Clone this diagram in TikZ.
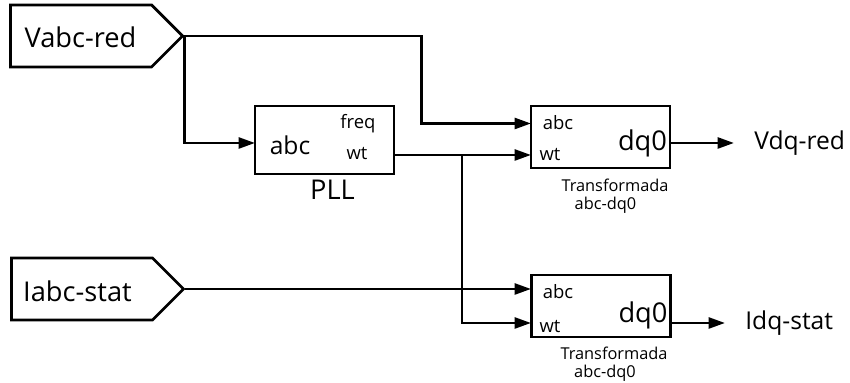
\documentclass[tikz,border=0pt]{standalone}
\usepackage{fontspec}
\setmainfont{Open Sans}
\usetikzlibrary{arrows.meta,shapes.symbols,positioning}

\begin{document}
\begin{tikzpicture}[every node/.style={font=\fontsize{10.5}{12}\selectfont}]
  \tikzset{
    block/.style={rectangle, draw=black, line width=1.6pt, minimum width=2.78cm, minimum height=1.24cm, inner sep=0pt},
    port/.style={signal, signal to=east, signal pointer angle=90, draw=black, line width=1.6pt, minimum width=3.44cm, minimum height=1.24cm, inner sep=0pt},
    feed/.style={-{Triangle[length=3.3mm, width=2.2mm]}, line width=1.6pt},
    big/.style={font=\fontsize{15.5}{18}\selectfont},
    mid/.style={font=\fontsize{14}{16}\selectfont},
    tag/.style={font=\fontsize{9.3}{11}\selectfont}
  }
  \useasboundingbox (0,0) rectangle (17,7.66);

  % entradas
  \node[port] (vin) at (1.62,6.94) {};
  \node[big] (vinlab) at (1.61,6.92) {Vabc-red};
  \node[port] (iin) at (1.64,1.88) {};
  \node[big] (iinlab) at (1.55,1.84) {Iabc-stat};

  % PLL
  \node[block, minimum height=1.36cm] (pll) at (6.49,4.86) {};
  \node[mid] (pllabc) at (5.80,4.76) {abc};
  \node (pllfreq) at (7.16,5.18) {freq};
  \node (pllwtlab) at (7.14,4.58) {wt};
  \node[big] (plllab) at (6.65,3.86) {PLL};

  % transformadas
  \node[block] (t1) at (12.01,4.92) {};
  \node (t1abclab) at (11.16,5.20) {abc};
  \node (t1wtlab) at (11.00,4.56) {wt};
  \node[big] (t1dq) at (12.85,4.80) {dq0};
  \node[tag] (t1name) at (12.30,3.96) {Transformada};
  \node[tag] (t1sub) at (12.11,3.56) {abc-dq0};

  \node[block] (t2) at (12.02,1.54) {};
  \node (t2abclab) at (11.16,1.82) {abc};
  \node (t2wtlab) at (11.00,1.12) {wt};
  \node[big] (t2dq) at (12.86,1.36) {dq0};
  \node[tag] (t2name) at (12.28,0.60) {Transformada};
  \node[tag] (t2sub) at (12.10,0.20) {abc-dq0};

  % salidas
  \node[mid, anchor=west, inner xsep=0pt] (vout) at (15.08,4.80) {Vdq-red};
  \node[mid, anchor=west, inner xsep=0pt] (iout) at (14.90,1.20) {Idq-stat};

  \coordinate (pllin) at (5.10,4.80);
  \coordinate (pllout) at (7.88,4.56);
  \coordinate (t1abc) at (10.62,5.19);
  \coordinate (t1wt) at (10.62,4.56);
  \coordinate (t1out) at (13.40,4.80);
  \coordinate (t2abc) at (10.62,1.88);
  \coordinate (t2wt) at (10.62,1.20);
  \coordinate (t2out) at (13.42,1.20);
  \coordinate (bend) at (8.43,5.19);
  \coordinate (split) at (9.24,4.56);

  \draw[feed] (vin.east) -| (bend) -- (t1abc);
  \draw[feed] (vin.east) |- (pllin);
  \draw[feed] (pllout) -- (t1wt);
  \draw[feed] (split) |- (t2wt);
  \draw[feed] (iin.east) -- (t2abc);
  \draw[feed, shorten >=0.4cm] (t1out) -- (vout.west);
  \draw[feed, shorten >=0.4cm] (t2out) -- (iout.west);
\end{tikzpicture}
\end{document}
